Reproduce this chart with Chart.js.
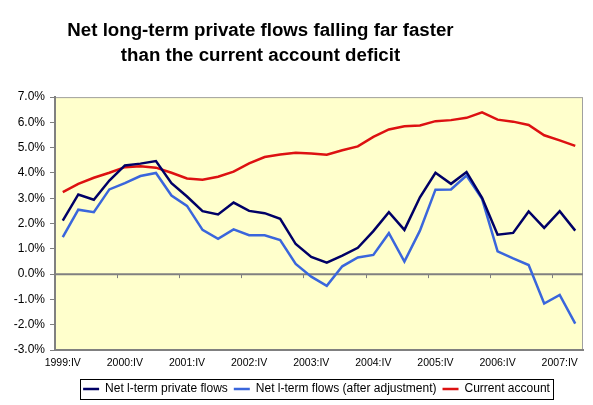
<!DOCTYPE html>
<html>
<head>
<meta charset="utf-8">
<script src="https://cdn.jsdelivr.net/npm/chart.js@4.4.1/dist/chart.umd.min.js"></script>
<style>
  body { margin: 0; background: #fff; }
</style>
</head>
<body>
<canvas id="chart1" width="593" height="405"></canvas>
<script>
const quarters = [
  '1999:IV', '2000:I', '2000:II', '2000:III', '2000:IV', '2001:I', '2001:II', '2001:III',
  '2001:IV', '2002:I', '2002:II', '2002:III', '2002:IV', '2003:I', '2003:II', '2003:III',
  '2003:IV', '2004:I', '2004:II', '2004:III', '2004:IV', '2005:I', '2005:II', '2005:III',
  '2005:IV', '2006:I', '2006:II', '2006:III', '2006:IV', '2007:I', '2007:II', '2007:III',
  '2007:IV', '2008:I'
];

const privateFlows = [
  2.12, 3.15, 2.94, 3.70, 4.30, 4.37, 4.47, 3.60, 3.07, 2.49, 2.36, 2.83, 2.50, 2.41, 2.19, 1.19,
  0.68, 0.45, 0.73, 1.04, 1.70, 2.45, 1.75, 3.04, 4.01, 3.57, 4.04, 3.02, 1.56, 1.63, 2.48, 1.83,
  2.49, 1.72
];

const adjustedFlows = [
  1.46, 2.55, 2.45, 3.35, 3.60, 3.88, 4.00, 3.11, 2.70, 1.75, 1.40, 1.77, 1.54, 1.54, 1.35, 0.40,
  -0.10, -0.46, 0.31, 0.66, 0.76, 1.62, 0.50, 1.72, 3.34, 3.35, 3.90, 2.98, 0.90, 0.62, 0.36, -1.16,
  -0.82, -1.96
];

const currentAccount = [
  3.24, 3.57, 3.81, 4.01, 4.23, 4.27, 4.21, 4.01, 3.78, 3.73, 3.85, 4.05, 4.38, 4.63, 4.73, 4.80,
  4.77, 4.72, 4.90, 5.05, 5.43, 5.72, 5.85, 5.88, 6.05, 6.09, 6.18, 6.40, 6.11, 6.03, 5.90, 5.49,
  5.29, 5.07
];

const yMin = -3;
const yMax = 7;

// pale yellow plot area with a grey frame
const plotArea = {
  id: 'plotArea',
  afterLayout(chart) {
    // excel puts the title a bit left of centre and the legend under the plot
    chart.titleBlock.left = 0;
    chart.titleBlock.right = 521;
    chart.legend.left = 50;
    chart.legend.right = 583;
  },
  beforeDraw(chart) {
    const { ctx, chartArea: a } = chart;
    ctx.save();
    ctx.fillStyle = '#ffffcc';
    ctx.fillRect(a.left, a.top, a.right - a.left, a.bottom - a.top);
    ctx.strokeStyle = '#a0a0a0';
    ctx.lineWidth = 1;
    ctx.strokeRect(a.left + 0.5, a.top + 0.5, a.right - a.left - 1, a.bottom - a.top - 1);
    ctx.restore();
  },
  // zero line with category tick marks, like the excel x axis
  beforeDatasetsDraw(chart) {
    const { ctx, chartArea: a, scales } = chart;
    const y0 = scales.y.getPixelForValue(0);
    ctx.save();
    ctx.strokeStyle = '#808080';
    ctx.lineWidth = 2;
    ctx.beginPath();
    ctx.moveTo(a.left, y0);
    ctx.lineTo(a.right, y0);
    ctx.stroke();
    ctx.lineWidth = 1;
    const half = (scales.x.getPixelForValue(1) - scales.x.getPixelForValue(0)) / 2;
    for (let i = 4; i < quarters.length; i += 4) {
      const x = Math.round(scales.x.getPixelForValue(i) - half) + 0.5;
      ctx.beginPath();
      ctx.moveTo(x, y0);
      ctx.lineTo(x, y0 + 4);
      ctx.stroke();
    }
    ctx.restore();
  }
};

// box round the legend items
const legendBox = {
  id: 'legendBox',
  afterDraw(chart) {
    const boxes = chart.legend.legendHitBoxes;
    if (!boxes || !boxes.length) return;
    const first = boxes[0];
    const last = boxes[boxes.length - 1];
    const ctx = chart.ctx;
    ctx.save();
    ctx.strokeStyle = '#000';
    ctx.lineWidth = 1;
    ctx.strokeRect(Math.round(first.left - 3) + 0.5, Math.round(first.top - 4) + 0.5,
      Math.round(last.left + last.width - first.left + 6), Math.round(first.height + 8));
    ctx.restore();
  }
};

const ctx = document.getElementById('chart1').getContext('2d');
const myChart = new Chart(ctx, {
  type: 'line',
  data: {
    labels: quarters,
    datasets: [{
      label: 'Net l-term private flows',
      data: privateFlows,
      borderColor: '#000066',
      backgroundColor: '#000066',
      borderWidth: 2.5
    }, {
      label: 'Net l-term flows (after adjustment)',
      data: adjustedFlows,
      borderColor: '#3a66dc',
      backgroundColor: '#3a66dc',
      borderWidth: 2.5
    }, {
      label: 'Current account',
      data: currentAccount,
      borderColor: '#dd1111',
      backgroundColor: '#dd1111',
      borderWidth: 2.5
    }]
  },
  options: {
    responsive: false,
    animation: false,
    elements: {
      point: { radius: 0 },
      line: { tension: 0 }
    },
    layout: {
      padding: { left: 0, right: 10, bottom: 0 }
    },
    plugins: {
      title: {
        display: true,
        text: ['Net long-term private flows falling far faster', 'than the current account deficit'],
        color: '#000',
        font: { family: 'Liberation Sans', size: 18.7, weight: 'bold', lineHeight: 1.34 },
        padding: { top: 18, bottom: 29 }
      },
      legend: {
        position: 'bottom',
        labels: {
          usePointStyle: true,
          pointStyle: 'line',
          pointStyleWidth: 16,
          padding: 6,
          color: '#000',
          font: { family: 'Liberation Sans', size: 12 }
        }
      },
      tooltip: { enabled: false }
    },
    scales: {
      y: {
        min: yMin,
        max: yMax,
        afterFit(scale) {
          scale.width = 55; // Room for the % labels
        },
        ticks: {
          stepSize: 1,
          padding: 5,
          color: '#000',
          font: { family: 'Liberation Sans', size: 12 },
          callback: function(value) {
            return value.toFixed(1) + '%';
          }
        },
        grid: {
          drawOnChartArea: false,
          tickLength: 5,
          color: '#808080'
        },
        border: { color: '#808080', width: 2 }
      },
      x: {
        offset: true,
        afterFit(scale) {
          scale.height = 27; // Space between plot and legend
        },
        ticks: {
          autoSkip: false,
          maxRotation: 0,
          padding: 7,
          color: '#000',
          font: { family: 'Liberation Sans', size: 10.5 },
          callback: function(value, index) {
            return index % 4 === 0 ? quarters[index] : '';
          }
        },
        grid: { display: false, drawTicks: false },
        border: { color: '#808080', width: 2 }
      }
    }
  },
  plugins: [plotArea, legendBox]
});
</script>
</body>
</html>
